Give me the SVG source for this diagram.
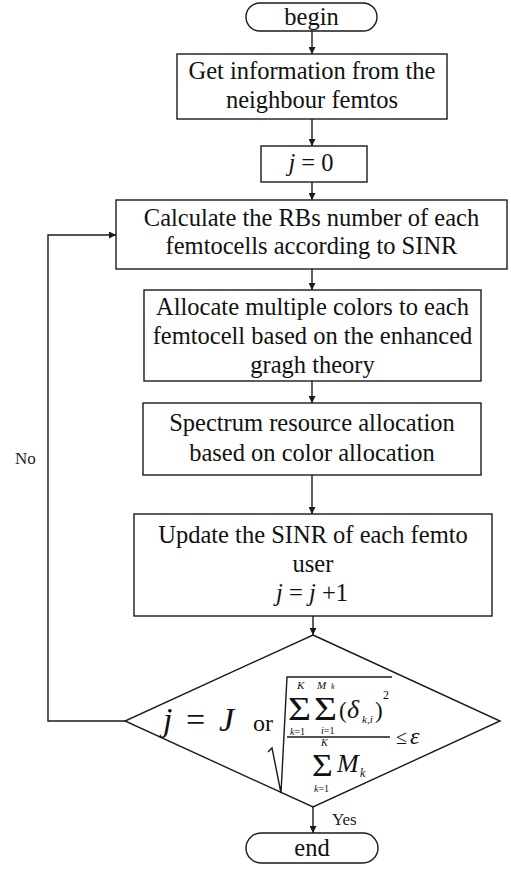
<svg xmlns="http://www.w3.org/2000/svg" width="511" height="869" viewBox="0 0 511 869">
  <style>
    .box { fill: #fff; stroke: #1a1a1a; stroke-width: 1.4; }
    .lbl { font-family: 'Liberation Serif', 'Times New Roman', serif; font-size: 24.5px; fill: #111; text-anchor: middle; }
    .m { font-family: 'Liberation Serif', 'Times New Roman', serif; fill: #111; }
    .it { font-style: italic; }
    .wire { fill: none; stroke: #1a1a1a; stroke-width: 1.4; }
    .note { font-family: 'Liberation Serif', 'Times New Roman', serif; font-size: 17px; fill: #222; }
  </style>
  <defs>
    <marker id="arrow" viewBox="0 0 10 10" refX="10" refY="5" markerWidth="7" markerHeight="7" orient="auto" markerUnits="userSpaceOnUse">
      <path d="M0,0 L10,5 L0,10 z" fill="#1a1a1a"/>
    </marker>
  </defs>
  <rect width="511" height="869" fill="#fff"/>

  <g id="connectors">
    <line class="wire" x1="312" y1="31" x2="312" y2="54" marker-end="url(#arrow)"/>
    <line class="wire" x1="312" y1="119" x2="312" y2="146" marker-end="url(#arrow)"/>
    <line class="wire" x1="312" y1="182" x2="312" y2="200" marker-end="url(#arrow)"/>
    <line class="wire" x1="312" y1="269" x2="312" y2="290" marker-end="url(#arrow)"/>
    <line class="wire" x1="312" y1="381" x2="312" y2="403" marker-end="url(#arrow)"/>
    <line class="wire" x1="312" y1="475" x2="312" y2="514" marker-end="url(#arrow)"/>
    <line class="wire" x1="313" y1="616" x2="313" y2="635" marker-end="url(#arrow)"/>
    <line class="wire" x1="313" y1="807" x2="313" y2="833" marker-end="url(#arrow)"/>
    <polyline class="wire" points="125,721 48,721 48,235 116,235" marker-end="url(#arrow)"/>
    <text class="note" x="15" y="464">No</text>
    <text class="note" x="332" y="825">Yes</text>
  </g>

  <g id="begin">
    <rect class="box" x="246" y="3" width="131" height="28" rx="14" ry="14"/>
    <text class="lbl" x="311.5" y="25">begin</text>
  </g>

  <g id="get-info">
    <rect class="box" x="177" y="54" width="270" height="65"/>
    <text class="lbl" x="312" y="79">Get information from the</text>
    <text class="lbl" x="312" y="108">neighbour femtos</text>
  </g>

  <g id="init-j">
    <rect class="box" x="261" y="146" width="106" height="36"/>
    <text class="lbl" x="311" y="171"><tspan class="it">j</tspan> = 0</text>
  </g>

  <g id="calc-rbs">
    <rect class="box" x="116" y="200" width="391" height="69"/>
    <text class="lbl" x="311.5" y="226">Calculate the RBs number of each</text>
    <text class="lbl" x="311.5" y="254">femtocells according to SINR</text>
  </g>

  <g id="allocate-colors">
    <rect class="box" x="144" y="290" width="337" height="91"/>
    <text class="lbl" x="312.5" y="315">Allocate multiple colors to each</text>
    <text class="lbl" x="312.5" y="344">femtocell based on the enhanced</text>
    <text class="lbl" x="312.5" y="373">gragh theory</text>
  </g>

  <g id="spectrum">
    <rect class="box" x="143" y="403" width="338" height="72"/>
    <text class="lbl" x="312" y="431">Spectrum resource allocation</text>
    <text class="lbl" x="312" y="461">based on color allocation</text>
  </g>

  <g id="update-sinr">
    <rect class="box" x="134" y="514" width="358" height="102"/>
    <text class="lbl" x="313" y="543">Update the SINR of each femto</text>
    <text class="lbl" x="313" y="572">user</text>
    <text class="lbl" x="312" y="601"><tspan class="it">j</tspan> = <tspan class="it">j</tspan> +1</text>
  </g>

  <g id="decision">
    <polygon class="box" points="313,635 500,721 313,807 125,721"/>
    <!-- j = J -->
    <text class="m it" x="163" y="731" font-size="34">j</text>
    <text class="m" x="186" y="731" font-size="34">=</text>
    <text class="m it" x="219" y="731" font-size="34">J</text>
    <text class="m" x="253" y="731" font-size="24">or</text>
    <!-- radical and fraction bar -->
    <path class="wire" stroke-width="1.1" d="M268,752 L272,748 L281,793 L287,677 L392,677"/>
    <line class="wire" stroke-width="1.1" x1="287" y1="737" x2="390" y2="737"/>
    <!-- numerator: double sum of squared deviations -->
    <text class="m" transform="translate(288,720) scale(1.2,1)" font-size="33">Σ</text>
    <text class="m it" x="297" y="689" font-size="11">K</text>
    <text class="m" x="290" y="735" font-size="10"><tspan class="it">k</tspan>=1</text>
    <text class="m" transform="translate(314,720) scale(1.2,1)" font-size="33">Σ</text>
    <text class="m it" x="317" y="689" font-size="11">M</text>
    <text class="m it" x="331" y="688.5" font-size="8">k</text>
    <text class="m" x="321" y="734" font-size="10"><tspan class="it">i</tspan>=1</text>
    <text class="m" x="339" y="718" font-size="23">(</text>
    <text class="m it" x="347" y="718" font-size="26">δ</text>
    <text class="m it" x="362" y="723" font-size="11">k,i</text>
    <text class="m" x="375" y="718" font-size="23">)</text>
    <text class="m" x="383" y="699" font-size="12">2</text>
    <!-- denominator -->
    <text class="m" transform="translate(312,776) scale(1.15,1)" font-size="31">Σ</text>
    <text class="m it" x="321" y="746" font-size="10">K</text>
    <text class="m" x="314" y="792" font-size="10"><tspan class="it">k</tspan>=1</text>
    <text class="m it" x="337" y="772" font-size="26">M</text>
    <text class="m it" x="360" y="777" font-size="12">k</text>
    <!-- bound -->
    <text class="m" x="396" y="744" font-size="20">≤</text>
    <text class="m it" x="410" y="744" font-size="24">ε</text>
  </g>

  <g id="end">
    <rect class="box" x="246" y="833" width="132" height="30" rx="15" ry="15"/>
    <text class="lbl" x="312" y="856">end</text>
  </g>
</svg>
